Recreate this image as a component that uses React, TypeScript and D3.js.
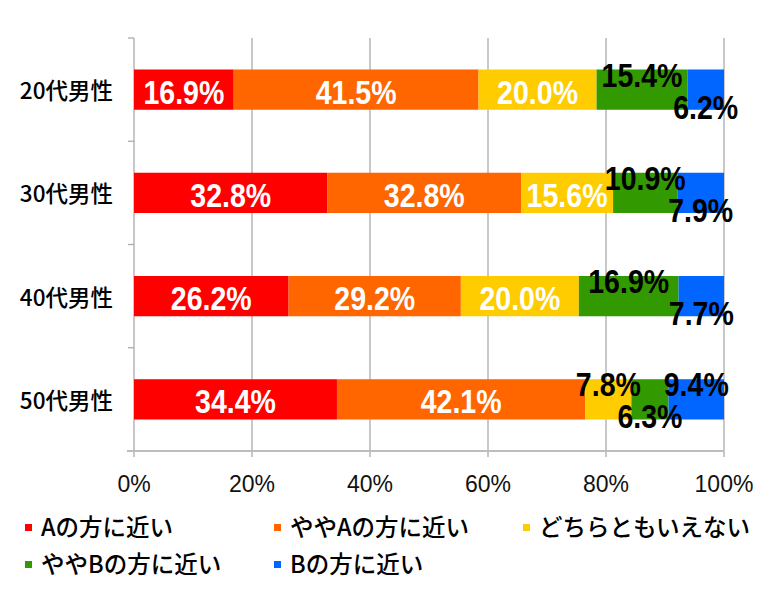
import React from "react";
import * as d3 from "d3";

const categories = ["20代男性", "30代男性", "40代男性", "50代男性"];
const seriesNames = ["Aの方に近い", "ややAの方に近い", "どちらともいえない", "ややBの方に近い", "Bの方に近い"];
const valuesA = [16.9, 32.8, 26.2, 34.4];
const valuesSlightA = [41.5, 32.8, 29.2, 42.1];
const valuesNeither = [20.0, 15.6, 20.0, 7.8];
const valuesSlightB = [15.4, 10.9, 16.9, 6.3];
const valuesB = [6.2, 7.9, 7.7, 9.4];
const xTicks = [0, 20, 40, 60, 80, 100];
const colors = ["#FF0000", "#FF6600", "#FFCC00", "#339900", "#0066FF"];

const W = 768;
const H = 589;
const M = { left: 134, right: 44, top: 38, bottom: 138 };
const LABEL_FONT = 34;
const NARROW = 0.84;
const glyphW: Record<string, number> = { ".": 0.278, "%": 0.889 };
const estWidth = (s: string) =>
  s.split("").reduce((a, c) => a + (glyphW[c] ?? 0.556), 0) * LABEL_FONT * NARROW;

export default function App() {
  const series = [valuesA, valuesSlightA, valuesNeither, valuesSlightB, valuesB];
  const keys = series.map((_, i) => "s" + i);
  const rows = categories.map((c, i) => {
    const r: any = { cat: c };
    series.forEach((s, k) => (r[keys[k]] = s[i]));
    return r;
  });
  const stacked = d3.stack<any>().keys(keys)(rows);

  const x = d3.scaleLinear().domain([0, 100]).range([M.left, W - M.right]);
  const y = d3
    .scaleBand<string>()
    .domain(categories)
    .range([M.top, H - M.bottom])
    .paddingInner(0.61)
    .paddingOuter(0.305);
  const plotBottom = H - M.bottom;
  const step = y.step();
  const bandEdges = d3.range(categories.length + 1).map((i) => M.top + i * step);

  // label layout per category
  const labels: any[] = [];
  categories.forEach((cat, ci) => {
    const items = stacked.map((s, k) => {
      const d = s[ci];
      const v = series[k][ci];
      const text = v.toFixed(1) + "%";
      const w = estWidth(text);
      const cx = (x(d[0]) + x(d[1])) / 2;
      const segW = x(d[1]) - x(d[0]);
      return { k, text, w, cx, segW, misfit: w > segW - 2, level: 0 };
    });
    let i = 0;
    while (i < items.length) {
      if (!items[i].misfit) { i++; continue; }
      let j = i;
      while (j + 1 < items.length && items[j + 1].misfit) j++;
      let start = i;
      if (j === i && i > 0) {
        const prev = items[i - 1];
        if (prev.cx + prev.w / 2 + 8 > items[i].cx - items[i].w / 2) start = i - 1;
      }
      for (let m = start; m <= j; m++) items[m].level = (m - start) % 2 === 0 ? -1 : 1;
      i = j + 1;
    }
    const center = (y(cat) as number) + y.bandwidth() / 2;
    items.forEach((it) => {
      const by = it.level === 0 ? center + 14 : it.level < 0 ? center - 3 : center + 29;
      labels.push({ ...it, cat, by, fill: it.level === 0 ? "#fff" : "#000" });
    });
  });

  const legendX = [25, 274, 523];
  const legendRowY = [527.5, 564.5];

  return (
    <svg
      width={W}
      height={H}
      style={{ position: "absolute", left: 0, top: 0, background: "#fff" }}
    >
      {xTicks.map((t) => (
        <line
          key={"g" + t}
          x1={x(t)}
          x2={x(t)}
          y1={M.top}
          y2={plotBottom + 6}
          stroke="#ababab"
          strokeWidth={1.3}
        />
      ))}
      {bandEdges.map((e, i) => (
        <line key={"lt" + i} x1={M.left - 6} x2={M.left} y1={e} y2={e} stroke="#ababab" strokeWidth={1.3} />
      ))}
      <line x1={M.left - 7} x2={x(100)} y1={plotBottom} y2={plotBottom} stroke="#bdbdbd" strokeWidth={2} />

      {stacked.map((s, k) =>
        s.map((d: any, ci: number) => (
          <rect
            key={k + "-" + ci}
            x={x(d[0])}
            y={y(categories[ci])}
            width={x(d[1]) - x(d[0])}
            height={y.bandwidth()}
            fill={colors[k]}
          />
        ))
      )}

      {labels.map((l, i) => (
        <text
          key={"l" + i}
          transform={`translate(${l.cx},${l.by}) scale(${NARROW},1)`}
          textAnchor="middle"
          fontFamily="'Liberation Sans', Arial, sans-serif"
          fontWeight="bold"
          fontSize={LABEL_FONT}
          fill={l.fill}
        >
          {l.text}
        </text>
      ))}

      {categories.map((c) => (
        <text
          key={c}
          x={113}
          y={(y(c) as number) + y.bandwidth() / 2 + 9.5}
          textAnchor="end"
          fontFamily="'Noto Sans CJK JP', sans-serif"
          fontWeight={500}
          fontSize={22.5}
          fill="#000"
        >
          {c}
        </text>
      ))}

      {xTicks.map((t) => (
        <text
          key={"t" + t}
          x={x(t)}
          y={492}
          textAnchor="middle"
          fontFamily="'Liberation Sans', Arial, sans-serif"
          fontSize={23}
          fill="#111"
        >
          {t + "%"}
        </text>
      ))}

      {seriesNames.map((n, i) => {
        const lx = legendX[i % 3];
        const ly = legendRowY[Math.floor(i / 3)];
        return (
          <g key={n}>
            <rect x={lx} y={ly - 3.5} width={7} height={7} fill={colors[i]} />
            <text
              x={lx + 16}
              y={ly + 8.5}
              fontFamily="'Noto Sans CJK JP', sans-serif"
              fontWeight={500}
              fontSize={23.5}
              fill="#000"
            >
              {n}
            </text>
          </g>
        );
      })}
    </svg>
  );
}
